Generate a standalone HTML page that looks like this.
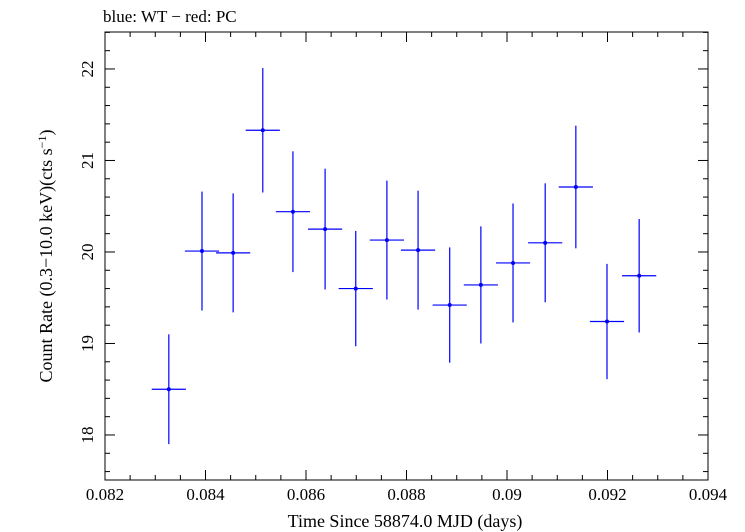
<!DOCTYPE html>
<html><head><meta charset="utf-8"><style>
body{margin:0;background:#fff}
svg{display:block;font-family:"Liberation Serif",serif}
</style></head><body>
<svg id="chart" width="745" height="532" xmlns="http://www.w3.org/2000/svg">
<text x="103" y="22" font-size="17">blue: WT − red: PC</text>
<g id="axes"></g>
<g id="marks"></g>
<text x="405" y="527" font-size="18" text-anchor="middle">Time Since 58874.0 MJD (days)</text>
<text transform="translate(52,256) rotate(-90)" font-size="18" text-anchor="middle">Count Rate (0.3−10.0 keV)(cts s<tspan dy="-6" font-size="12">−1</tspan><tspan dy="6">)</tspan></text>
</svg>
<script>
const times=[0.08327,0.08393,0.08455,0.08514,0.08574,0.08638,0.08699,0.08761,0.08823,0.08886,0.08948,0.09012,0.09076,0.09137,0.09199,0.09263];
const rates=[18.5,20.01,19.99,21.33,20.44,20.25,19.6,20.13,20.02,19.42,19.64,19.88,20.1,20.71,19.24,19.74];
const rateErr=[0.6,0.65,0.65,0.68,0.66,0.66,0.63,0.65,0.65,0.63,0.64,0.65,0.65,0.67,0.63,0.62];
const timeErr=[0.00034,0.00034,0.00034,0.00034,0.00034,0.00034,0.00034,0.00034,0.00034,0.00034,0.00034,0.00034,0.00034,0.00034,0.00034,0.00034];
const xTicks=[0.082,0.084,0.086,0.088,0.09,0.092,0.094];
const xTickLabels=["0.082","0.084","0.086","0.088","0.09","0.092","0.094"];
const yTicks=[18,19,20,21,22];
const yTickLabels=["18","19","20","21","22"];
const L=105,R=708,T=32,B=480;
const x0=0.082,x1=0.094,y0=17.508,y1=22.404;
const sx=v=>L+(v-x0)/(x1-x0)*(R-L);
const sy=v=>B-(v-y0)/(y1-y0)*(B-T);
const NS="http://www.w3.org/2000/svg";
function mk(tag,attrs,parent){const e=document.createElementNS(NS,tag);for(const k in attrs)e.setAttribute(k,attrs[k]);parent.appendChild(e);return e;}
const axes=document.getElementById('axes'),marks=document.getElementById('marks');
const frame=mk('rect',{x:L,y:T,width:R-L,height:B-T,fill:'none',stroke:'#000','stroke-width':1},axes);


for(let v=x0;v<=x1+1e-9;v+=0.0005){
  const major=Math.abs(Math.round(v/0.002)*0.002-v)<1e-9;const len=major?10:5;const X=sx(v);
  const t1=mk('line',{x1:X,x2:X,y1:B,y2:B-len,stroke:'#000'},axes);
  
  
  const t2=mk('line',{x1:X,x2:X,y1:T,y2:T+len,stroke:'#000'},axes);
  
  
}
xTicks.forEach((v,i)=>{const t=mk('text',{x:sx(v),y:B+20,'font-size':17,'text-anchor':'middle'},axes);t.textContent=xTickLabels[i];
  
  });
for(let v=17.6;v<=y1;v+=0.2){
  const major=Math.abs(Math.round(v)-v)<1e-6;const len=major?10:5;const Y=sy(v);
  const t1=mk('line',{x1:L,x2:L+len,y1:Y,y2:Y,stroke:'#000'},axes);
  
  
  const t2=mk('line',{x1:R,x2:R-len,y1:Y,y2:Y,stroke:'#000'},axes);
  
  
}
yTicks.forEach((v,i)=>{const t=mk('text',{transform:`translate(${L-12},${sy(v)}) rotate(-90)`,'font-size':17,'text-anchor':'middle'},axes);t.textContent=yTickLabels[i];
  
  });
times.forEach((t,i)=>{
  const g=mk('g',{stroke:'#0000ff','stroke-width':1.2},marks);
  
  
  mk('line',{x1:sx(t-timeErr[i]),x2:sx(t+timeErr[i]),y1:sy(rates[i]),y2:sy(rates[i])},g);
  mk('line',{x1:sx(t),x2:sx(t),y1:sy(rates[i]-rateErr[i]),y2:sy(rates[i]+rateErr[i])},g);
  mk('circle',{cx:sx(t),cy:sy(rates[i]),r:2,fill:'#0000ff',stroke:'none'},g);
});
</script>
</body></html>
